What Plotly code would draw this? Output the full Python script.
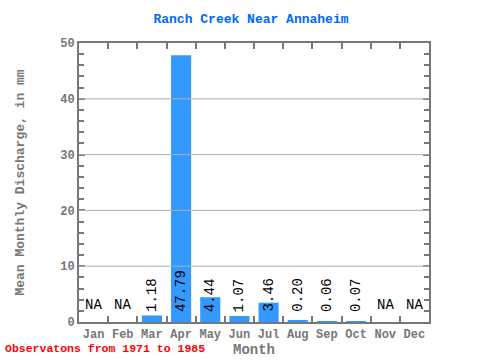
import plotly.graph_objects as go

months = ["Jan", "Feb", "Mar", "Apr", "May", "Jun", "Jul", "Aug", "Sep", "Oct", "Nov", "Dec"]
values = [None, None, 1.18, 47.79, 4.44, 1.07, 3.46, 0.20, 0.06, 0.07, None, None]
labels = ["NA", "NA", "1.18", "47.79", "4.44", "1.07", "3.46", "0.20", "0.06", "0.07", "NA", "NA"]
grid_values = [10, 20, 30, 40]

font = "Liberation Mono, DejaVu Sans Mono, monospace"
grey = "#777777"

fig = go.Figure()
fig.add_trace(go.Bar(x=months, y=[v if v is not None else 0 for v in values],
                     marker=dict(color="#3399ff", line=dict(width=0)), width=0.69,
                     hoverinfo="skip"))

for m, v, t in zip(months, values, labels):
    if v is None:
        fig.add_annotation(x=m, y=0, yshift=7, text=t, showarrow=False, yanchor="bottom",
                           font=dict(family=font, size=14, color="black"))
    else:
        fig.add_annotation(x=m, y=0, yshift=8, text=t, showarrow=False, yanchor="bottom",
                           textangle=-90, font=dict(family=font, size=14, color="black"))

for g in grid_values:
    fig.add_shape(type="line", xref="paper", x0=0, x1=1, yref="y", y0=g, y1=g,
                  line=dict(color="#b0b0b0", width=1), layer="above")

fig.add_annotation(xref="paper", yref="paper", x=-76/350, y=-38/279, yshift=3,
                   text="<b>Observatons from 1971 to 1985</b>", showarrow=False,
                   xanchor="left", yanchor="bottom", font=dict(family=font, size=11.5, color="red"))

fig.update_layout(
    width=480, height=360, plot_bgcolor="white", paper_bgcolor="white",
    margin=dict(l=79, r=51, t=43, b=38, autoexpand=False), showlegend=False,
    title=dict(text="<b>Ranch Creek Near Annaheim</b>", x=251/480, xanchor="center", y=1 - 18/360, yanchor="middle",
               font=dict(family=font, size=13, color="#0066ff")),
    xaxis=dict(type="category", showline=True, linewidth=2, linecolor=grey, mirror="allticks",
               ticks="inside", ticklen=6, tickwidth=2, tickcolor=grey, tickson="boundaries",
               tickangle=0, automargin=False,
               tickfont=dict(family=font, size=12, color=grey, weight="bold"),
               title=dict(text="<b>Month</b>", standoff=3, font=dict(family=font, size=14, color=grey))),
    yaxis=dict(range=[0, 50], dtick=10, showline=True, linewidth=2, linecolor=grey, mirror="allticks",
               ticks="inside", ticklen=6, tickwidth=2, tickcolor=grey, automargin=False,
               showgrid=False, zeroline=False,
               minor=dict(dtick=2, ticks="inside", ticklen=5, tickwidth=2, tickcolor=grey, showgrid=False),
               tickfont=dict(family=font, size=12, color=grey, weight="bold"),
               title=dict(text="<b>Mean Monthly Discharge, in mm</b>", standoff=33,
                          font=dict(family=font, size=13, color=grey))),
)
fig.write_html("out.html", config={"displayModeBar": False},
               post_script="document.body.style.margin='0';document.body.style.padding='0';")
